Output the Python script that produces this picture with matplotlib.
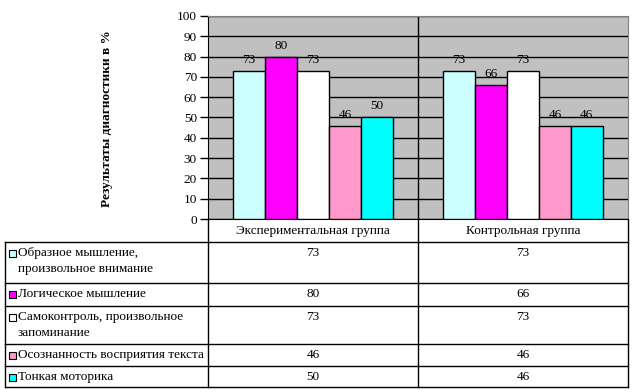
import matplotlib

matplotlib.use("Agg")
import matplotlib.pyplot as plt  # noqa: E402
from matplotlib.patches import Rectangle  # noqa: E402
import numpy as np  # noqa: E402

plt.rcParams["font.family"] = ["Liberation Serif", "DejaVu Serif"]

W, H = 633, 392
GROUPS = ["Экспериментальная группа", "Контрольная группа"]
SERIES = [
    "Образное мышление,\nпроизвольное внимание",
    "Логическое мышление",
    "Самоконтроль, произвольное\nзапоминание",
    "Осознанность восприятия текста",
    "Тонкая моторика",
]
VALUES = [
    [73, 73],
    [80, 66],
    [73, 73],
    [46, 46],
    [50, 46],
]
COLORS = ["#CCFFFF", "#FF00FF", "#FFFFFF", "#FF99CC", "#00FFFF"]
YLABEL = "Результаты диагностики в %"

# pixel layout
X0, X1, XM = 208, 628, 418
Y_TOP, Y_ZERO = 16, 219
ROW_Y = [219, 242, 283, 306, 344, 366, 387]
TAB_LEFT = 5
FS = 9.5

fig = plt.figure(figsize=(W / 100, H / 100), dpi=100)
ax = fig.add_axes([X0 / W, 1 - Y_ZERO / H, (X1 - X0) / W, (Y_ZERO - Y_TOP) / H])
ax.set_facecolor("#C0C0C0")

n = len(SERIES)
bw = 0.152
x = np.arange(len(GROUPS))
for i, (vals, c) in enumerate(zip(VALUES, COLORS)):
    pos = x + (i - (n - 1) / 2) * bw
    bars = ax.bar(pos, vals, bw, color=c, edgecolor="black", linewidth=1, zorder=3)
    for b, v in zip(bars, vals):
        ax.text(b.get_x() + b.get_width() / 2, v + 2.5, f"{v}",
                ha="center", va="bottom", fontsize=FS, zorder=4)

ax.set_xlim(-0.5, 1.5)
ax.set_ylim(0, 100)
ax.set_yticks(range(0, 101, 10))
ax.tick_params(axis="y", direction="out", length=6, width=1, labelsize=FS, pad=2)
ax.set_xticks([])
ax.yaxis.grid(True, color="black", linewidth=1, zorder=1)
ax.set_axisbelow(True)
ax.axvline(0.5, color="black", linewidth=1, zorder=2)
for side in ("top", "right"):
    ax.spines[side].set_color("#808080")
ax.spines["left"].set_color("black")
ax.spines["bottom"].set_color("black")

fig.text(107 / W, 1 - 119 / H, YLABEL, rotation=90, ha="center", va="center",
         fontsize=9.5, fontweight="bold")

# data table under the chart
tab = fig.add_axes([0, 0, 1, 1])
tab.set_xlim(0, W)
tab.set_ylim(H, 0)
tab.axis("off")
tab.patch.set_alpha(0)

lw = 1
for y in ROW_Y[1:]:
    tab.plot([TAB_LEFT, X1], [y, y], color="black", linewidth=lw)
for xv in (X0, XM, X1):
    tab.plot([xv, xv], [Y_ZERO, ROW_Y[-1]], color="black", linewidth=lw)
tab.plot([TAB_LEFT, TAB_LEFT], [ROW_Y[1], ROW_Y[-1]], color="black", linewidth=lw)

col_cx = [(X0 + XM) / 2, (XM + X1) / 2]
for g, cx in zip(GROUPS, col_cx):
    tab.text(cx, (ROW_Y[0] + ROW_Y[1]) / 2, g, ha="center", va="center", fontsize=FS)

for r, (name, vals, c) in enumerate(zip(SERIES, VALUES, COLORS)):
    top = ROW_Y[r + 1]
    tab.add_patch(Rectangle((9, top + 8), 7, 7, facecolor=c, edgecolor="black",
                            linewidth=0.8))
    tab.text(18, top + 5, name, ha="left", va="top", fontsize=FS, linespacing=1.4)
    for v, cx in zip(vals, col_cx):
        tab.text(cx, top + 5, f"{v}", ha="center", va="top", fontsize=FS)

fig.savefig("out.png", dpi=100)
